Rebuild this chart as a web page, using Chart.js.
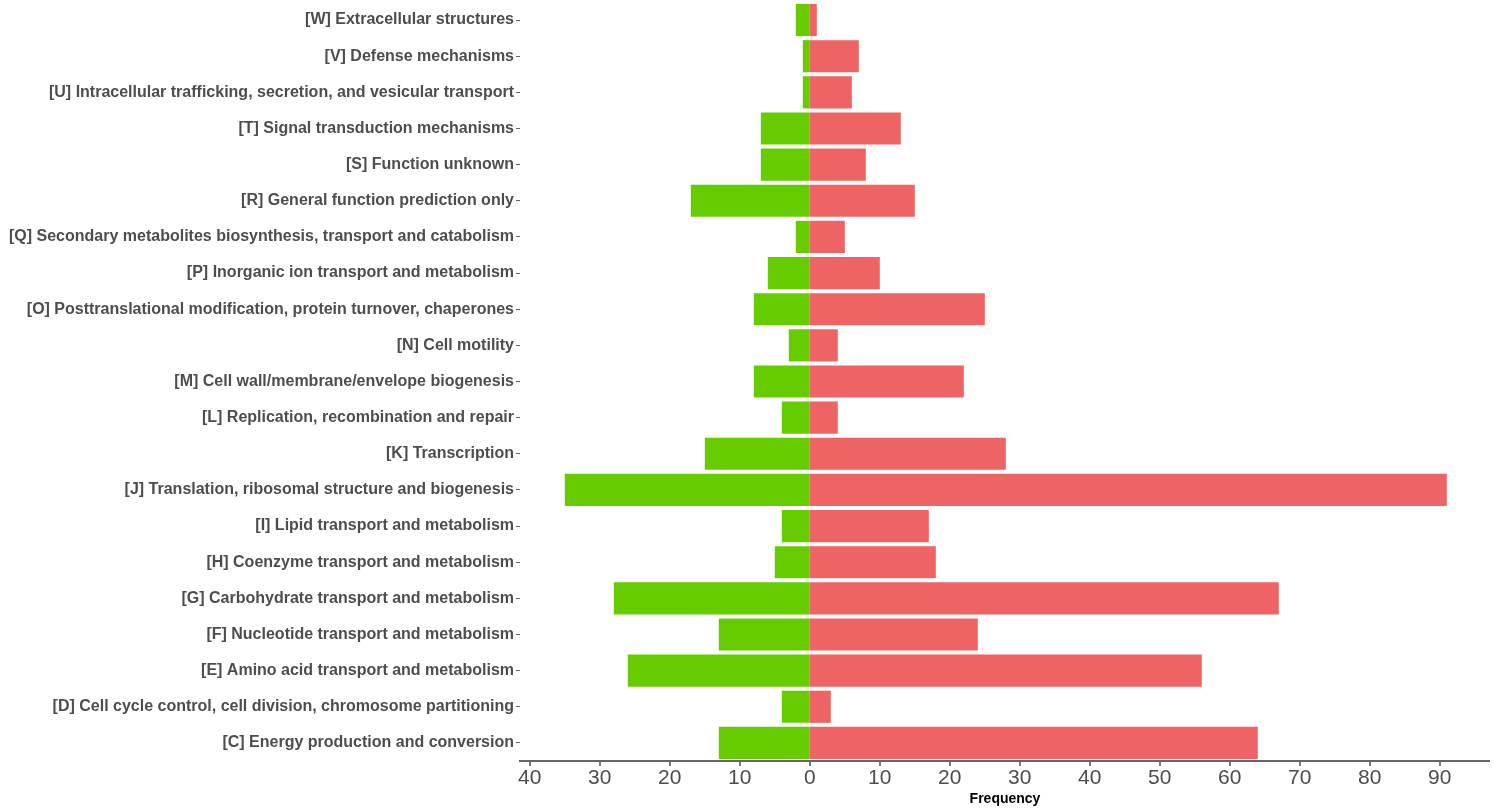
<!DOCTYPE html>
<html>
<head>
<meta charset="utf-8">
<script src="https://cdn.jsdelivr.net/npm/chart.js@4"></script>
<style>
  html, body { margin: 0; padding: 0; background: #fff; }
  #wrap { width: 1494px; height: 811px; }
</style>
</head>
<body>
<div id="wrap"><canvas id="myChart"></canvas></div>
<script>
// COG categories, top to bottom
var categories = [
    '[W] Extracellular structures',
    '[V] Defense mechanisms',
    '[U] Intracellular trafficking, secretion, and vesicular transport',
    '[T] Signal transduction mechanisms',
    '[S] Function unknown',
    '[R] General function prediction only',
    '[Q] Secondary metabolites biosynthesis, transport and catabolism',
    '[P] Inorganic ion transport and metabolism',
    '[O] Posttranslational modification, protein turnover, chaperones',
    '[N] Cell motility',
    '[M] Cell wall/membrane/envelope biogenesis',
    '[L] Replication, recombination and repair',
    '[K] Transcription',
    '[J] Translation, ribosomal structure and biogenesis',
    '[I] Lipid transport and metabolism',
    '[H] Coenzyme transport and metabolism',
    '[G] Carbohydrate transport and metabolism',
    '[F] Nucleotide transport and metabolism',
    '[E] Amino acid transport and metabolism',
    '[D] Cell cycle control, cell division, chromosome partitioning',
    '[C] Energy production and conversion'
];

// left side (green), drawn as negative values
var greenValues = [2, 1, 1, 7, 7, 17, 2, 6, 8, 3, 8, 4, 15, 35, 4, 5, 28, 13, 26, 4, 13];
// right side (red)
var redValues = [1, 7, 6, 13, 8, 15, 5, 10, 25, 4, 22, 4, 28, 91, 17, 18, 67, 24, 56, 3, 64];

var xTicks = [-40, -30, -20, -10, 0, 10, 20, 30, 40, 50, 60, 70, 80, 90];

const data = {
    labels: categories,
    datasets: [{
        label: 'green',
        data: greenValues.map(function (v) { return -v; }),
        backgroundColor: '#66CC00',
        borderWidth: 0,
        barPercentage: 0.89,
        categoryPercentage: 1
    }, {
        label: 'red',
        data: redValues,
        backgroundColor: '#EE6363',
        borderWidth: 0,
        barPercentage: 0.89,
        categoryPercentage: 1
    }]
};

const config = {
    type: 'bar',
    data: data,
    options: {
        indexAxis: 'y',
        responsive: true,
        maintainAspectRatio: false,
        animation: false,
        layout: { padding: { top: 2, right: 4, left: 0, bottom: 0 } },
        plugins: {
            legend: { display: false },
            tooltip: { enabled: false }
        },
        scales: {
            x: {
                stacked: true,
                min: -41.4,
                max: 97.1714,
                afterBuildTicks: function (scale) {
                    scale.ticks = xTicks.map(function (v) { return { value: v }; });
                },
                ticks: {
                    includeBounds: false,
                    color: '#4d4d4d',
                    font: { family: '"Liberation Sans Narrow", "Liberation Sans", Arial, sans-serif', size: 21 },
                    padding: 0,
                    maxRotation: 0,
                    callback: function (v) { return Math.abs(v); }
                },
                grid: {
                    drawOnChartArea: false,
                    lineWidth: 0,   // keeps the bars touching at zero
                    tickWidth: 1.5,
                    tickColor: '#555',
                    tickLength: 5
                },
                border: { display: true, color: '#666', width: 2 },
                title: {
                    display: true,
                    text: 'Frequency',
                    color: '#000',
                    font: { family: '"Liberation Sans", Arial, sans-serif', size: 14, weight: 'bold' },
                    padding: { top: 0, bottom: 3 }
                }
            },
            y: {
                stacked: true,
                afterFit: function (scale) {
                    scale.width = 520;
                    scale.paddingTop = 0;
                    scale.paddingBottom = 0;
                },
                ticks: {
                    color: '#4d4d4d',
                    font: { family: '"Liberation Sans", Arial, sans-serif', size: 16, weight: 'bold' },
                    padding: 2,
                    autoSkip: false
                },
                grid: {
                    offset: false,
                    drawOnChartArea: false,
                    color: '#666',
                    tickLength: 4
                },
                border: { display: false }
            }
        }
    }
};

const myChart = new Chart(document.getElementById('myChart'), config);
</script>
</body>
</html>
